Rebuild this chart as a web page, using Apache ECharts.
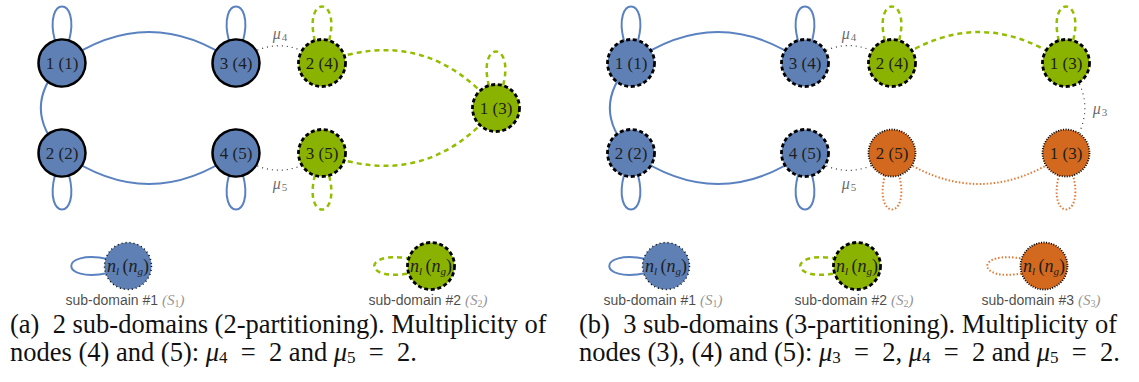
<!DOCTYPE html>
<html>
<head>
<meta charset="utf-8">
<script src="https://cdn.jsdelivr.net/npm/echarts@6/dist/echarts.min.js"></script>
<style>
  html, body { margin: 0; background: #fff; }
  #chart { width: 1139px; height: 382px; }
</style>
</head>
<body>
<div id="chart"></div>
<script>
// nodes: label, x, y, sub-domain
const nodesA = [
  ['1 (1)', 62, 63, 1],
  ['2 (2)', 62, 153, 1],
  ['3 (4)', 236, 63, 1],
  ['4 (5)', 236, 153, 1],
  ['2 (4)', 322, 63, 2],
  ['3 (5)', 322, 153, 2],
  ['1 (3)', 496, 108, 2]
];
const nodesB = [
  ['1 (1)', 631, 63, 1],
  ['2 (2)', 631, 153, 1],
  ['3 (4)', 805, 63, 1],
  ['4 (5)', 805, 153, 1],
  ['2 (4)', 892, 63, 2],
  ['1 (3)', 1066, 63, 2],
  ['2 (5)', 892, 153, 3],
  ['1 (3)', 1066, 153, 3]
];
// edges: source, target, curveness, kind
const edgesA = [
  [0, 2, 0.356, 'blue'],
  [0, 1, -0.47, 'blue'],
  [1, 3, -0.356, 'blue'],
  [4, 6, 0.36, 'green'],
  [5, 6, -0.36, 'green'],
  [2, 4, 0.4, 'mu'],
  [3, 5, -0.4, 'mu']
];
const edgesB = [
  [0, 2, 0.356, 'blue'],
  [0, 1, -0.47, 'blue'],
  [1, 3, -0.356, 'blue'],
  [4, 5, 0.356, 'green'],
  [6, 7, -0.356, 'orange'],
  [2, 4, 0.4, 'mu'],
  [3, 6, -0.4, 'mu'],
  [5, 7, 0.42, 'mu']
];
// self loops: node index, direction
const loopsA = [[0, 'up'], [2, 'up'], [4, 'up'], [6, 'up'], [1, 'down'], [3, 'down'], [5, 'down']];
const loopsB = [[0, 'up'], [2, 'up'], [4, 'up'], [5, 'up'], [1, 'down'], [3, 'down'], [6, 'down'], [7, 'down']];
// multiplicity labels: subscript, x, y
const muLabels = [['4', 280, 33], ['5', 280, 183], ['4', 849, 33], ['5', 849, 183], ['3', 1100, 108]];
// legend: sub-domain, x, y
const legendNodes = [[1, 128, 266], [2, 431, 266], [1, 666, 266], [2, 857, 266], [3, 1044, 266]];
const legendTextY = 300;

const fill = { 1: '#5e80b5', 2: '#8ab200', 3: '#d2691e' };
const lineKinds = {
  blue: { color: '#5b82c0', width: 2, type: 'solid' },
  green: { color: '#93bd00', width: 2.5, type: [5, 4] },
  orange: { color: '#e27a35', width: 2, type: [1.5, 2] },
  mu: { color: '#333', width: 1.2, type: [1, 4] }
};
const loopKind = { 1: 'blue', 2: 'green', 3: 'orange' };
const dashed = { borderColor: '#000', borderWidth: 2.8, borderType: [4, 2.6] };
const dotted = { borderColor: '#000', borderWidth: 1.8, borderType: [1, 1.5] };
const borderA = {
  1: { borderColor: '#000', borderWidth: 2.5, borderType: 'solid' },
  2: dashed
};
const borderB = { 1: dashed, 2: dashed, 3: dotted };
const borderLegend = {
  1: { borderColor: '#000', borderWidth: 1.5, borderType: [1, 3] },
  2: dashed,
  3: dotted
};

const serif = '"Liberation Serif", serif';
const sans = '"Liberation Sans", sans-serif';

function graphNodes(list, borders) {
  return list.map((n, i) => ({
    name: 'n' + i,
    text: n[0],
    value: [n[1], n[2]],
    itemStyle: Object.assign({ color: fill[n[3]] }, borders[n[3]])
  }));
}
function graphLinks(list) {
  return list.map(e => ({
    source: e[0],
    target: e[1],
    lineStyle: Object.assign({ curveness: e[2], opacity: 1 }, lineKinds[e[3]])
  }));
}

// loop items for the custom series
const loopItems = [];
loopsA.forEach(l => { const n = nodesA[l[0]]; loopItems.push({ x: n[1], y: n[2], dir: l[1], kind: loopKind[n[3]] }); });
loopsB.forEach(l => { const n = nodesB[l[0]]; loopItems.push({ x: n[1], y: n[2], dir: l[1], kind: loopKind[n[3]] }); });
legendNodes.forEach(l => loopItems.push({ x: l[1], y: l[2], dir: 'left', kind: loopKind[l[0]] }));

const loopShapes = {
  up: [[-7, -22], [-19, -68], [19, -68], [7, -22]],
  down: [[-7, 22], [-19, 68], [19, 68], [7, 22]],
  left: [[-20, -7], [-69, -17], [-69, 17], [-20, 7]]
};

function renderLoop(params, api) {
  const it = loopItems[params.dataIndex];
  const c = api.coord([api.value(0), api.value(1)]);
  const s = loopShapes[it.dir].map(p => [c[0] + p[0], c[1] + p[1]]);
  const k = lineKinds[it.kind];
  return {
    type: 'path',
    shape: {
      pathData: 'M' + s[0].join(' ') + ' C' + s[1].join(' ') + ' ' + s[2].join(' ') + ' ' + s[3].join(' ')
    },
    style: {
      fill: 'none',
      stroke: k.color,
      lineWidth: k.width,
      lineDash: k.type === 'solid' ? null : k.type
    }
  };
}

const nodeLabel = {
  show: true,
  position: 'inside',
  color: '#1e1e1e',
  textBorderWidth: 0,
  fontFamily: serif,
  fontSize: 17,
  formatter: p => p.data.text
};
const subRich = {
  i: { fontFamily: serif, fontStyle: 'italic', fontSize: 18, color: '#1e1e1e', textBorderWidth: 0 },
  s: { fontFamily: serif, fontStyle: 'italic', fontSize: 11, color: '#1e1e1e', textBorderWidth: 0, padding: [9, 0, 0, 0] },
  p: { fontFamily: serif, fontSize: 18, color: '#1e1e1e', textBorderWidth: 0 }
};
const capRich = {
  i: { fontFamily: serif, fontStyle: 'italic', fontSize: 26.5, fill: '#111' },
  s: { fontFamily: serif, fontSize: 17, fill: '#111', padding: [12, 0, 0, 0] }
};
const capFont = '26.5px "Liberation Serif"';

const chart = echarts.init(document.getElementById('chart'), null, { renderer: 'svg' });
chart.setOption({
  animation: false,
  grid: { left: 0, right: 0, top: 0, bottom: 0 },
  xAxis: { type: 'value', min: 0, max: 1139, show: false },
  yAxis: { type: 'value', min: 0, max: 382, inverse: true, show: false },
  series: [
    {
      type: 'custom',
      z: 1,
      silent: true,
      data: loopItems.map(l => [l.x, l.y]),
      renderItem: renderLoop
    },
    {
      type: 'graph',
      coordinateSystem: 'cartesian2d',
      z: 2,
      silent: true,
      symbol: 'circle',
      symbolSize: 47,
      label: nodeLabel,
      edgeSymbol: ['none', 'none'],
      data: graphNodes(nodesA, borderA),
      links: graphLinks(edgesA)
    },
    {
      type: 'graph',
      coordinateSystem: 'cartesian2d',
      z: 2,
      silent: true,
      symbol: 'circle',
      symbolSize: 47,
      label: nodeLabel,
      edgeSymbol: ['none', 'none'],
      data: graphNodes(nodesB, borderB),
      links: graphLinks(edgesB)
    },
    {
      type: 'graph',
      coordinateSystem: 'cartesian2d',
      z: 2,
      silent: true,
      symbol: 'circle',
      symbolSize: 47,
      label: {
        show: true,
        position: 'inside',
        textBorderWidth: 0,
        formatter: '{i|n}{s|l} {p|(}{i|n}{s|g}{p|)}',
        rich: subRich
      },
      data: legendNodes.map((l, i) => ({
        name: 'l' + i,
        value: [l[1], l[2]],
        itemStyle: Object.assign({ color: fill[l[0]] }, borderLegend[l[0]])
      })),
      links: []
    },
    {
      type: 'scatter',
      z: 3,
      silent: true,
      symbolSize: 1,
      itemStyle: { color: 'rgba(0,0,0,0)' },
      label: {
        show: true,
        position: 'inside',
        formatter: p => '{m|μ}{s|' + p.data.sub + '}',
        rich: {
          m: { fontFamily: serif, fontStyle: 'italic', fontSize: 16, color: '#444' },
          s: { fontFamily: serif, fontSize: 11, color: '#444', padding: [8, 0, 0, 1] }
        }
      },
      data: muLabels.map(m => ({ value: [m[1], m[2]], sub: m[0] }))
    },
    {
      type: 'scatter',
      z: 3,
      silent: true,
      symbolSize: 1,
      itemStyle: { color: 'rgba(0,0,0,0)' },
      label: {
        show: true,
        position: 'inside',
        formatter: p => '{t|sub-domain #' + p.data.dom + ' }{g|(S}{s|' + p.data.dom + '}{g|)}',
        rich: {
          t: { fontFamily: sans, fontSize: 14, color: '#1a1a1a' },
          g: { fontFamily: serif, fontStyle: 'italic', fontSize: 15, color: '#777' },
          s: { fontFamily: serif, fontSize: 10, color: '#777', padding: [7, 0, 0, 0] }
        }
      },
      data: legendNodes.map(l => ({ value: [l[1] - 3, legendTextY], dom: l[0] }))
    }
  ],
  graphic: [
    {
      type: 'text', left: 10, top: 310,
      style: { text: '(a)  2 sub-domains (2-partitioning). Multiplicity of', font: capFont, fill: '#111' }
    },
    {
      type: 'text', left: 10, top: 338,
      style: {
        text: 'nodes (4) and (5): {i|μ}{s|4}  =  2 and {i|μ}{s|5}  =  2.',
        font: capFont, fill: '#111', rich: capRich
      }
    },
    {
      type: 'text', left: 579, top: 310,
      style: { text: '(b)  3 sub-domains (3-partitioning). Multiplicity of', font: capFont, fill: '#111' }
    },
    {
      type: 'text', left: 579, top: 338,
      style: {
        text: 'nodes (3), (4) and (5): {i|μ}{s|3}  =  2, {i|μ}{s|4}  =  2 and {i|μ}{s|5}  =  2.',
        font: capFont, fill: '#111', rich: capRich
      }
    }
  ]
});
</script>
</body>
</html>
